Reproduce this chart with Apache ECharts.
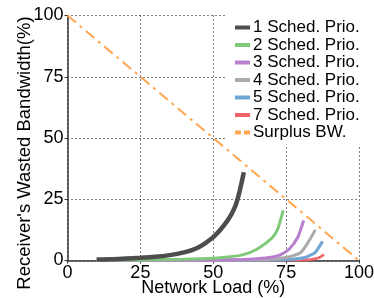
<!DOCTYPE html>
<html lang="en">
    <head>
        <meta charset="UTF-8" />
        <title>Receiver's Wasted Bandwidth</title>
        <script src="https://cdnjs.cloudflare.com/ajax/libs/echarts/6.0.0/echarts.min.js"></script>
        <style>
            body { margin: 0; background: #fff; }
            #chart { width: 374px; height: 298px; }
        </style>
    </head>

    <body>
        <div id="chart"></div>
        <script>
            //series data
            const names = ["1 Sched. Prio.", "2 Sched. Prio.", "3 Sched. Prio.", "4 Sched. Prio.", "5 Sched. Prio.", "7 Sched. Prio.", "Surplus BW."];
            const colors = ["#4d4d4d", "#7fc97a", "#b87fcc", "#aaaaaa", "#6fa6d4", "#f0646a", "#ffa64f"];

            const load1 = [10, 15, 20, 25, 30, 35, 40, 45, 50, 55, 57.5, 59, 60.5];
            const waste1 = [0.4, 0.5, 0.8, 1.1, 1.5, 2.2, 3.3, 5.4, 9.5, 16.5, 22, 28, 36];
            const load2 = [10, 20, 30, 40, 50, 55, 60, 65, 70, 72, 74];
            const waste2 = [0.1, 0.2, 0.3, 0.5, 0.9, 1.4, 2.3, 4.6, 9, 12.5, 20.5];
            const load3 = [10, 30, 50, 60, 65, 70, 73, 76, 79, 81];
            const waste3 = [0, 0.1, 0.2, 0.4, 0.7, 1.3, 2.3, 4.6, 9.5, 16.3];
            const load4 = [10, 30, 50, 65, 70, 75, 78, 80, 82.5, 85];
            const waste4 = [0, 0, 0.1, 0.3, 0.5, 1.2, 2.2, 3.2, 7.3, 12.5];
            const load5 = [10, 30, 50, 70, 78, 81.5, 83, 85, 87.5];
            const waste5 = [0, 0, 0.05, 0.2, 0.6, 1.2, 2, 3.3, 7.8];
            const load7 = [10, 30, 50, 70, 80, 83, 86, 88];
            const waste7 = [0, 0, 0, 0.05, 0.1, 0.3, 1.0, 2.4];
            const loadSurplus = [0, 100];
            const surplus = [100, 0];

            const xTicks = [0, 25, 50, 75, 100];
            const yTicks = [0, 25, 50, 75, 100];

            const loads = [load1, load2, load3, load4, load5, load7, loadSurplus];
            const wastes = [waste1, waste2, waste3, waste4, waste5, waste7, surplus];
            const widths = [4.5, 3, 3, 3, 3, 2.5, 2];

            const font = "'Liberation Sans', Arial, sans-serif";
            const barIcon = "path://M0,0h15v4h-15z";
            const dashIcon = "path://M0,0h6v4h-6zM9,0h6v4h-6z";

            function pairs(xs, ys) {
                return xs.map((x, i) => [x, ys[i]]);
            }

            const series = names.map((name, i) => ({
                name: name,
                type: "line",
                data: pairs(loads[i], wastes[i]),
                showSymbol: false,
                symbol: "none",
                smooth: i === 6 ? false : 0.2,
                z: i === 6 ? 3 : 2 + (5 - i) * 0.01,
                lineStyle: {
                    color: colors[i],
                    width: widths[i],
                    type: i === 6 ? [11, 5, 3, 5] : "solid",
                },
                itemStyle: { color: colors[i] },
            }));

            const splitLine = {
                show: true,
                lineStyle: { color: "#000", width: 1, type: [1, 3] },
            };

            const chart = echarts.init(document.getElementById("chart"), null, { renderer: "canvas" });
            chart.setOption({
                animation: false,
                color: colors,
                grid: { left: 67.5, right: 15, top: 15.5, bottom: 37.5, outerBoundsMode: "none", containLabel: false },
                legend: {
                    data: names.map((name, i) => ({ name: name, icon: i === 6 ? dashIcon : barIcon })),
                    orient: "vertical",
                    left: 227,
                    top: 0,
                    padding: [19, 4, 6, 8],
                    backgroundColor: "#fff",
                    itemWidth: 15,
                    itemHeight: 4,
                    itemGap: 0.5,
                    textStyle: { fontFamily: font, fontSize: 17, color: "#000", lineHeight: 17, padding: [0, 0, 0, -2] },
                },
                xAxis: {
                    type: "value",
                    min: xTicks[0],
                    max: xTicks[xTicks.length - 1],
                    interval: 25,
                    name: "Network Load (%)",
                    nameLocation: "middle",
                    nameGap: 19,
                    nameMoveOverlap: false,
                    nameTextStyle: { fontFamily: font, fontSize: 18, color: "#000" },
                    axisLine: { lineStyle: { color: "#333", width: 1.5 } },
                    axisTick: { show: true, length: 3, lineStyle: { color: "#333" } },
                    axisLabel: { fontFamily: font, fontSize: 18, color: "#000", margin: 4 },
                    splitLine: splitLine,
                },
                yAxis: {
                    type: "value",
                    min: yTicks[0],
                    max: yTicks[yTicks.length - 1],
                    interval: 25,
                    name: "Receiver's Wasted Bandwidth(%)",
                    nameLocation: "middle",
                    nameGap: 33,
                    nameMoveOverlap: false,
                    nameTextStyle: { fontFamily: font, fontSize: 18.5, color: "#000", padding: [0, 30, 0, 0] },
                    axisLine: { show: true, lineStyle: { color: "#333", width: 1.5 } },
                    axisTick: { show: true, length: 3, lineStyle: { color: "#333" } },
                    axisLabel: { fontFamily: font, fontSize: 18, color: "#000", margin: 4 },
                    splitLine: splitLine,
                },
                series: series,
            });
        </script>
    </body>
</html>
